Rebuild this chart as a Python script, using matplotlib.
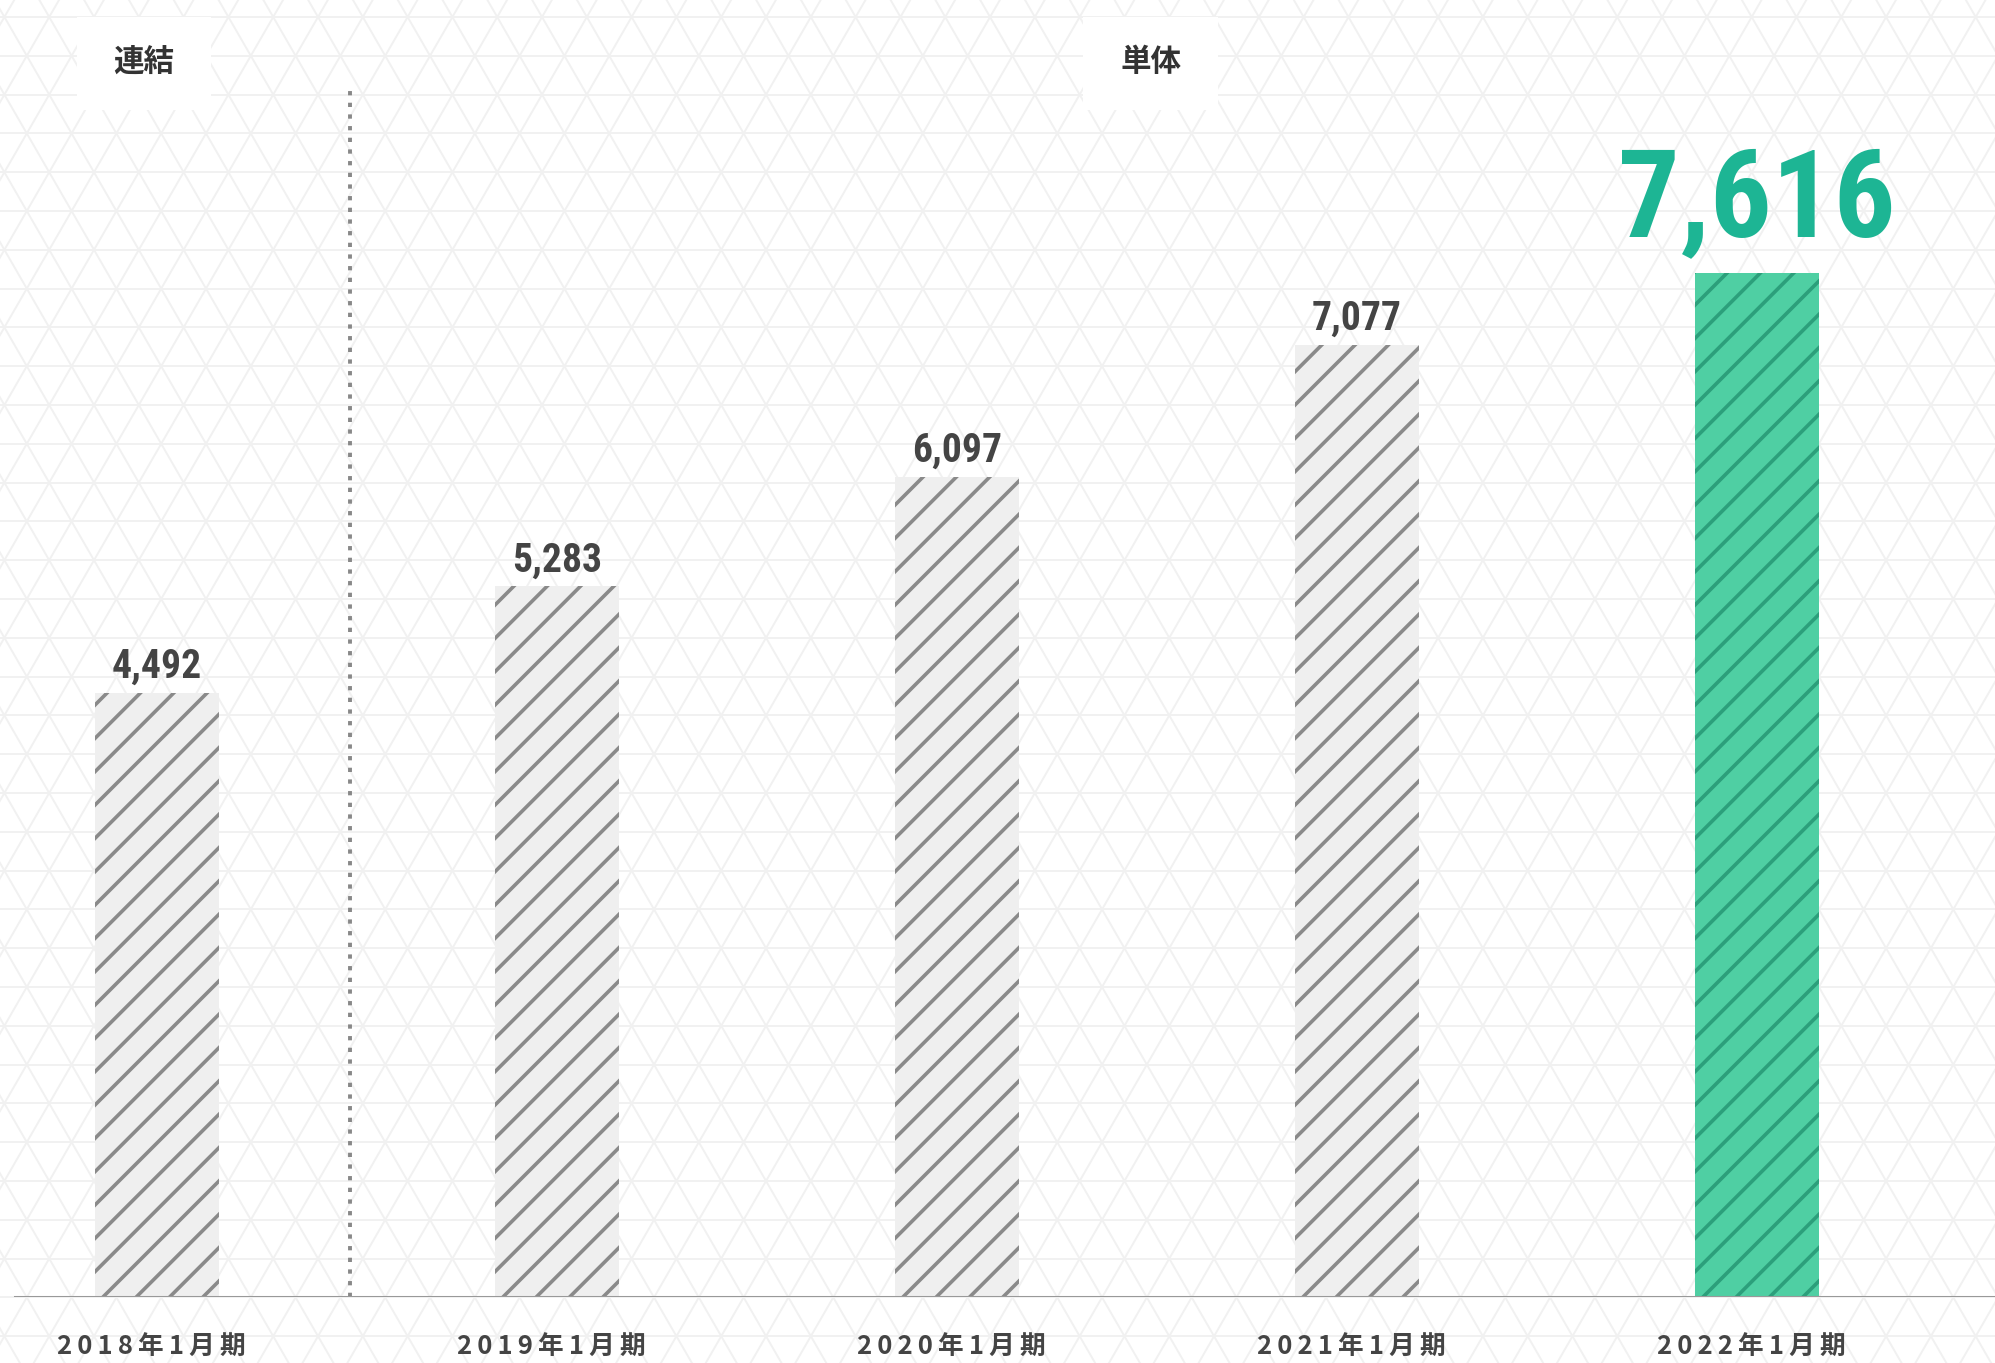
import numpy as np
import matplotlib
matplotlib.use("Agg")
import matplotlib.pyplot as plt
from matplotlib.patches import Rectangle

# sales figures (millions of yen) by fiscal period
periods = ["2018年1月期", "2019年1月期", "2020年1月期", "2021年1月期", "2022年1月期"]
values = [4492, 5283, 6097, 7077, 7616]
groups = ["連結", "単体"]

W, H = 1995, 1363
DPI = 100
BASE_PX = 66          # baseline height above figure bottom
PX_PER_UNIT = 0.1345  # vertical scale
X0_PX, STEP_PX = 157, 400
SEP_X = 0.4825        # consolidated / standalone divider

GREY_FACE, GREY_HATCH = "#efefef", "#8a8a8a"
GREEN_FACE, GREEN_HATCH = "#4fcfa3", "#2c9f7b"
GREEN_TEXT = "#1db594"
TEXT = "#444444"
NUM_FONT = ["Roboto Condensed", "DejaVu Sans"]

plt.rcParams["hatch.linewidth"] = 2.6


def draw_background(fig):
    """Light triangular lattice behind the chart."""
    bg = fig.add_axes([0, 0, 1, 1], zorder=0)
    bg.set_xlim(0, W)
    bg.set_ylim(H, 0)
    bg.axis("off")
    h = 38.8
    s = 2 * h / np.sqrt(3)
    y0, x0 = 17.0, 4.4
    kw = dict(color="#f1f1f1", lw=1.4, zorder=0)
    for y in np.arange(y0 - h, H + h, h):
        bg.plot([0, W], [y, y], **kw)
    ys = np.array([-50, H + 50])
    for c in np.arange(x0 - 40 * s, W + 40 * s, s):
        bg.plot(c + (ys - y0) / np.sqrt(3), ys, **kw)
        bg.plot(c - (ys - y0) / np.sqrt(3), ys, **kw)

    # white tabs for the group headings
    for (x, w), label in zip([(77, 134), (1083, 135)], groups):
        bg.add_patch(Rectangle((x, 17), w, 93, facecolor="white",
                               edgecolor="none", zorder=1))
        bg.text(x + w / 2, 62, label, ha="center", va="center",
                fontsize=22, fontweight="bold", color="#333333",
                family=["Noto Sans CJK JP", "DejaVu Sans"], zorder=2)
    return bg


def draw_bars(fig):
    ax = fig.add_axes([0, BASE_PX / H, 1, 1 - BASE_PX / H], zorder=1)
    ax.patch.set_alpha(0)
    ax.set_xlim(-X0_PX / STEP_PX, (W - X0_PX) / STEP_PX)
    ax.set_ylim(0, (H - BASE_PX) / PX_PER_UNIT)
    ax.axis("off")

    x = np.arange(len(values))
    last = len(values) - 1
    for i, v in enumerate(values):
        face = GREEN_FACE if i == last else GREY_FACE
        hatch_c = GREEN_HATCH if i == last else GREY_HATCH
        ax.bar(x[i], v, width=0.31, color=face, edgecolor=hatch_c,
               hatch="/", linewidth=0, zorder=2)
        if i == last:
            ax.text(x[i], v + 36 / PX_PER_UNIT, f"{v:,}", ha="center",
                    va="baseline", fontsize=88, fontweight="bold",
                    fontstretch="condensed", color=GREEN_TEXT,
                    family=NUM_FONT)
        else:
            ax.text(x[i], v + 15 / PX_PER_UNIT, f"{v:,}", ha="center",
                    va="baseline", fontsize=28.5, fontweight="bold",
                    fontstretch="condensed", color=TEXT, family=NUM_FONT)

    # baseline and divider
    ax.axhline(0, xmin=15 / W, xmax=1, color="#999999", lw=2.2, zorder=3)
    ax.axvline(SEP_X, ymin=0, ymax=(H - BASE_PX - 89) / (H - BASE_PX),
               color="#888888", lw=2.8, linestyle=(0, (1.1, 1.9)),
               dash_capstyle="butt", zorder=1)

    # period labels under the baseline, letter-spaced
    for i, p in enumerate(periods):
        spaced = "\u2009".join(p)
        ax.text(x[i] - 0.015, -50 / PX_PER_UNIT, spaced, ha="center",
                va="center", fontsize=18.5, fontweight="bold", color=TEXT,
                family=["Noto Sans CJK JP", "DejaVu Sans"], clip_on=False)
    return ax


def main():
    fig = plt.figure(figsize=(W / DPI, H / DPI), dpi=DPI)
    fig.patch.set_facecolor("white")
    draw_background(fig)
    draw_bars(fig)
    fig.savefig("out.png", dpi=DPI, facecolor="white")


if __name__ == "__main__":
    main()
